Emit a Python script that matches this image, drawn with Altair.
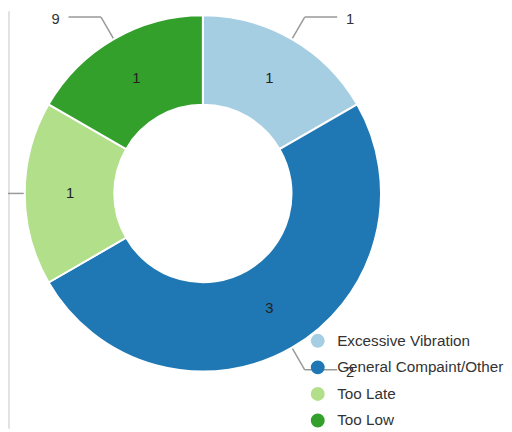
import altair as alt
import pandas as pd

categories = ["Excessive Vibration", "General Compaint/Other", "Too Late", "Too Low"]
counts = [1, 3, 1, 1]
outer_labels = ["1", "2", "1", "9"]
colors = ["#a6cee3", "#1f78b4", "#b2df8a", "#33a02c"]

df = pd.DataFrame({
    "idx": list(range(len(categories))),
    "category": categories,
    "count": counts,
    "outer": outer_labels,
})

W, H = 504, 424
CX, CY = 198, 185
R_OUT, R_IN, R_TXT = 181, 90, 135
R_ELBOW, HSEG, GAP = 207, 33, 9

color = alt.Color(
    "category:N",
    scale=alt.Scale(domain=categories, range=colors),
    legend=alt.Legend(
        orient="none", legendX=307, legendY=327, title=None,
        symbolType="circle", symbolSize=200, symbolStrokeWidth=0,
        labelFontSize=15.5, labelFont="Liberation Sans", labelColor="#333",
        labelLimit=300, rowPadding=10, labelOffset=12, padding=0,
    ),
)

theta = alt.Theta("count:Q", stack=True)
order = alt.Order("idx:Q", sort="ascending")

base = alt.Chart(df)

arcs = base.mark_arc(outerRadius=R_OUT, innerRadius=R_IN, stroke="white", strokeWidth=2).encode(
    theta=theta, color=color, order=order, x=alt.value(CX), y=alt.value(CY)
)

inner_text = base.mark_text(radius=R_TXT, fontSize=15, font="Liberation Sans", color="#222").encode(
    theta=theta, detail="category:N", order=order, text="count:Q",
    x=alt.value(CX), y=alt.value(CY)
)

geo = base.transform_joinaggregate(total="sum(count)").transform_window(
    cum="sum(count)", sort=[alt.SortField("idx", order="ascending")], frame=[None, 0]
).transform_calculate(
    mid="2*PI*(datum.cum - datum.count/2)/datum.total",
    s="sin(datum.mid) >= 0 ? 1 : -1",
    x1=f"{CX} + {R_OUT}*sin(datum.mid)",
    y1=f"{CY} - {R_OUT}*cos(datum.mid)",
    xe=f"{CX} + {R_ELBOW}*sin(datum.mid)",
    ye=f"{CY} - {R_ELBOW}*cos(datum.mid)",
    xh=f"datum.xe + datum.s*{HSEG}",
    xt=f"datum.xh + datum.s*{GAP}",
)

xs = alt.Scale(domain=[0, W], nice=False, zero=False)
ys = alt.Scale(domain=[0, H], nice=False, zero=False, reverse=True)

seg1 = geo.mark_rule(color="#999", strokeWidth=1.5).encode(
    x=alt.X("x1:Q", scale=xs, axis=None), y=alt.Y("y1:Q", scale=ys, axis=None),
    x2="xe:Q", y2="ye:Q",
)
seg2 = geo.mark_rule(color="#999", strokeWidth=1.5).encode(
    x=alt.X("xe:Q", scale=xs, axis=None), y=alt.Y("ye:Q", scale=ys, axis=None),
    x2="xh:Q",
)
lab_r = geo.transform_filter("datum.s > 0").mark_text(
    align="left", baseline="middle", dy=2, fontSize=15, font="Liberation Sans", color="#333"
).encode(x=alt.X("xt:Q", scale=xs, axis=None), y=alt.Y("ye:Q", scale=ys, axis=None), text="outer:N")
lab_l = geo.transform_filter("datum.s < 0").mark_text(
    align="right", baseline="middle", dy=2, fontSize=15, font="Liberation Sans", color="#333"
).encode(x=alt.X("xt:Q", scale=xs, axis=None), y=alt.Y("ye:Q", scale=ys, axis=None), text="outer:N")

border = alt.Chart(pd.DataFrame({"a": [0]})).mark_rule(color="#e2e2e2", strokeWidth=2).encode(
    x=alt.value(1), y=alt.value(0), y2=alt.value(H)
)

chart = alt.layer(border, seg1, seg2, lab_r, lab_l, arcs, inner_text).properties(
    width=W, height=H, autosize=alt.AutoSizeParams(type="none"), padding=0
).configure_view(stroke=None)

chart.save("out.html", embed_options={"renderer": "svg", "actions": False})
